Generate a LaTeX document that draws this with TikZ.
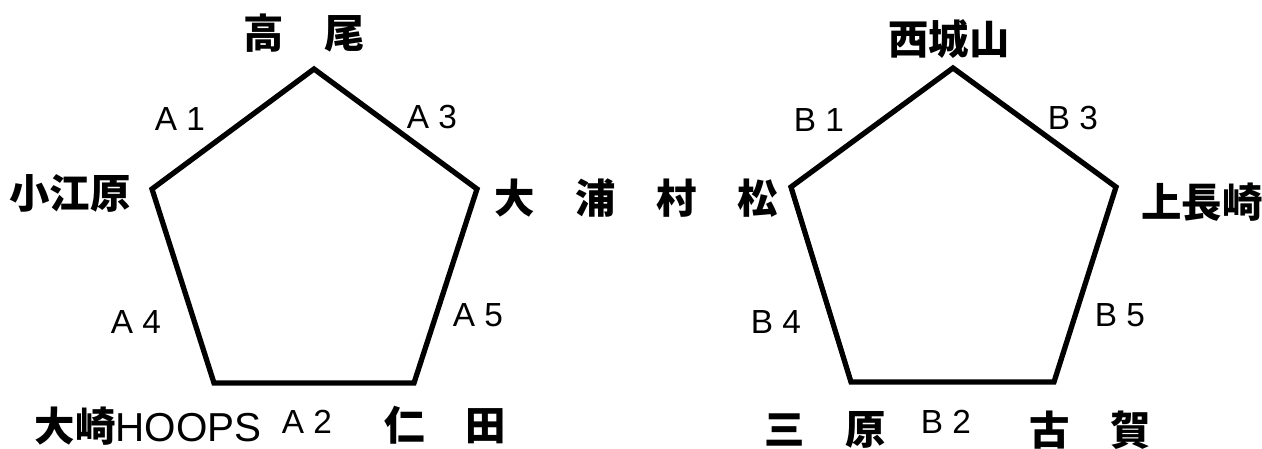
\documentclass[tikz,border=0pt]{standalone}
\usepackage{fontspec}
\setmainfont{Liberation Sans}
\newfontfamily\jpfont{Noto Sans CJK JP}
\tikzset{
  place/.style={font=\jpfont\bfseries\fontsize{23}{23}\selectfont, inner sep=0pt},
  side/.style={font=\fontsize{19}{19}\selectfont, inner sep=0pt},
  pent/.style={line width=3pt}
}
\begin{document}
\begin{tikzpicture}[x=0.02cm,y=-0.02cm]
	\useasboundingbox (0,0) rectangle (1262,449);
	% pentagon A
	\path (314,69) coordinate (At);
	\path (477,189) coordinate (Ar);
	\path (414,383) coordinate (Abr);
	\path (214,383) coordinate (Abl);
	\path (152,189) coordinate (Al);
	\draw[pent] (At) -- (Ar) -- (Abr) -- (Abl) -- (Al) -- cycle;
	% pentagon B
	\path (953,68) coordinate (Bt);
	\path (1116,187) coordinate (Br);
	\path (1054,382) coordinate (Bbr);
	\path (851,382) coordinate (Bbl);
	\path (791,187) coordinate (Bl);
	\draw[pent] (Bt) -- (Br) -- (Bbr) -- (Bbl) -- (Bl) -- cycle;
	% teams
	\node[place] (takao) at (304,33) {高　尾};
	\node[place] (koebaru) at (70,193) {小江原};
	\node[place] (ourasm) at (636,198) {大　浦　村　松};
	\node[place] (ohsaki) at (148,426) {大崎{\mdseries\normalfont\fontsize{23}{23}\selectfont HOOPS}};
	\node[place] (nita) at (445,425) {仁　田};
	\node[place] (nishi) at (949,39) {西城山};
	\node[place] (kaminaga) at (1202,202) {上長崎};
	\node[place] (mihara) at (825,430) {三　原};
	\node[place] (koga) at (1090,430) {古　賀};
	% games
	\node[side] (a1) at (180,119) {A 1};
	\node[side] (a3) at (432,117) {A 3};
	\node[side] (a4) at (136,322) {A 4};
	\node[side] (a5) at (478,315) {A 5};
	\node[side] (a2) at (307,422) {A 2};
	\node[side] (b1) at (819,120) {B 1};
	\node[side] (b3) at (1073,118) {B 3};
	\node[side] (b4) at (776,322) {B 4};
	\node[side] (b5) at (1120,315) {B 5};
	\node[side] (b2) at (946,422) {B 2};
\end{tikzpicture}
\end{document}
